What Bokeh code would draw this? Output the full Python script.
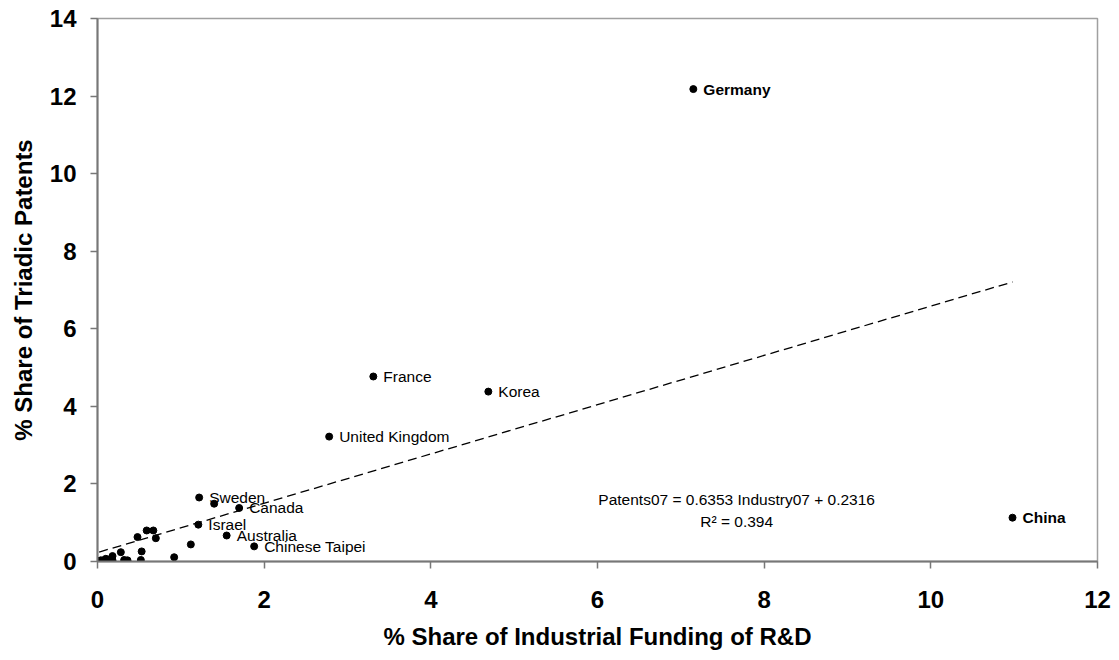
from bokeh.plotting import figure
from bokeh.models import ColumnDataSource, FixedTicker, Range1d
from bokeh.core.properties import value
from bokeh.embed import file_html
from bokeh.resources import INLINE

# Labelled countries
countries = ["Germany", "China", "France", "Korea", "United Kingdom", "Sweden",
             "Canada", "Israel", "Australia", "Chinese Taipei"]
industry_lab = [7.15, 10.98, 3.31, 4.69, 2.78, 1.22, 1.70, 1.21, 1.55, 1.88]
patents_lab = [12.18, 1.13, 4.77, 4.38, 3.22, 1.65, 1.38, 0.95, 0.67, 0.39]
bold_flag = [True, True, False, False, False, False, False, False, False, False]

# Unlabelled countries
industry_other = [1.40, 1.12, 0.92, 0.70, 0.67, 0.59, 0.48, 0.53, 0.52, 0.28,
                  0.18, 0.32, 0.36, 0.18, 0.10, 0.04, 0.07, 0.14, 0.02, 0.12]
patents_other = [1.49, 0.44, 0.11, 0.60, 0.80, 0.80, 0.63, 0.26, 0.04, 0.24,
                 0.14, 0.04, 0.03, 0.03, 0.07, 0.03, 0.03, 0.05, 0.01, 0.02]

# Fitted trend (from the chart's equation)
slope = 0.6353
intercept = 0.2316
r2 = 0.394

x_ticks = [0, 2, 4, 6, 8, 10, 12]
y_ticks = [0, 2, 4, 6, 8, 10, 12, 14]

FONT = "Liberation Sans"

p = figure(width=1111, height=652, output_backend="svg", toolbar_location=None,
           x_range=Range1d(0, 12), y_range=Range1d(0, 14),
           min_border_left=97, min_border_right=14, min_border_top=18,
           min_border_bottom=91)
p.background_fill_color = "white"
p.border_fill_color = "white"
p.outline_line_color = "#a0a0a0"
p.outline_line_width = 1.5
p.xgrid.visible = False
p.ygrid.visible = False

for ax in (p.xaxis[0], p.yaxis[0]):
    ax.axis_line_color = "#777777"
    ax.axis_line_width = 2
    ax.major_tick_line_color = "#777777"
    ax.major_tick_line_width = 1.5
    ax.major_tick_out = 7
    ax.major_tick_in = 0
    ax.minor_tick_out = 0
    ax.minor_tick_in = 0
    ax.major_label_text_font = FONT
    ax.major_label_text_font_style = "bold"
    ax.major_label_text_font_size = "24px"
    ax.major_label_text_color = "black"
    ax.axis_label_text_font = FONT
    ax.axis_label_text_font_style = "bold"
    ax.axis_label_text_font_size = "24px"
    ax.axis_label_text_color = "black"

p.xaxis.ticker = FixedTicker(ticks=x_ticks)
p.yaxis.ticker = FixedTicker(ticks=y_ticks)
p.xaxis.axis_label = "% Share of Industrial Funding of R&D"
p.yaxis.axis_label = "% Share of Triadic Patents"
p.xaxis.major_label_standoff = 22
p.yaxis.major_label_standoff = 14
p.xaxis.axis_label_standoff = 12
p.yaxis.axis_label_standoff = 10

# trend line
all_x = industry_lab + industry_other
x0, x1 = min(all_x), max(all_x)
p.line([x0, x1], [slope * x0 + intercept, slope * x1 + intercept],
       line_color="black", line_width=1.3, line_dash="9 5")

# points
p.scatter(industry_other, patents_other, size=7, color="black")
p.scatter(industry_lab, patents_lab, size=7, color="black")

reg = ColumnDataSource(dict(
    x=[x for x, b in zip(industry_lab, bold_flag) if not b],
    y=[y for y, b in zip(patents_lab, bold_flag) if not b],
    t=[c for c, b in zip(countries, bold_flag) if not b]))
bold = ColumnDataSource(dict(
    x=[x for x, b in zip(industry_lab, bold_flag) if b],
    y=[y for y, b in zip(patents_lab, bold_flag) if b],
    t=[c for c, b in zip(countries, bold_flag) if b]))

p.text(x="x", y="y", text="t", source=reg, x_offset=10, text_baseline="middle",
       text_font=value(FONT), text_font_size="15.5px", text_color="black")
p.text(x="x", y="y", text="t", source=bold, x_offset=10, text_baseline="middle",
       text_font=value(FONT), text_font_size="15.5px", text_font_style="bold",
       text_color="black")

eq1 = f"Patents07 = {slope:.4f} Industry07 + {intercept:.4f}"
eq2 = f"R\u00b2 = {r2:.3f}"
p.text(x=[7.67, 7.67], y=[1.60, 1.03], text=[eq1, eq2], text_align="center",
       text_baseline="middle", text_font=value(FONT), text_font_size="15.5px",
       text_color="black")

open("out.html", "w").write(file_html(p, INLINE))
